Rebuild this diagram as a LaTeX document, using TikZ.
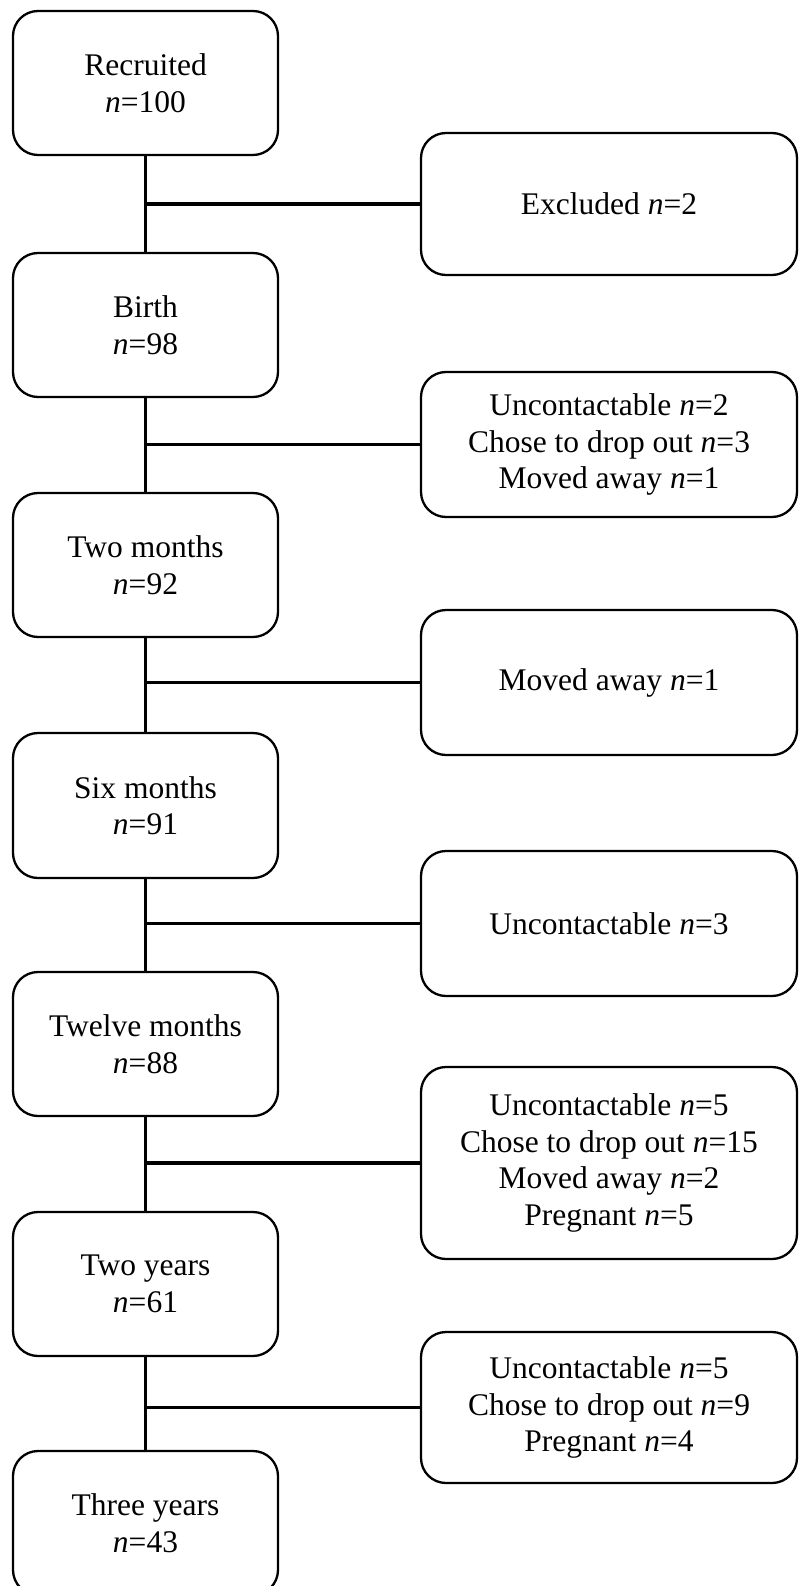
\documentclass[tikz,border=0pt]{standalone}
\usepackage{fontspec}
\setmainfont{Liberation Serif}
\begin{document}
\begin{tikzpicture}[x=1pt,y=-1pt,
  lbox/.style={draw, line width=2.3pt, rounded corners=25pt, minimum width=265pt, minimum height=144pt, align=center, inner sep=0pt, font=\fontsize{31.5}{36.5}\selectfont},
  rbox/.style={lbox, minimum width=376pt},
  conn/.style={line width=3.2pt}]
\useasboundingbox (0,0) rectangle (798,1586);
% left column
\node[lbox] (rec) at (145.5,83) {Recruited\\\textit{n}=100};
\node[lbox] (birth) at (145.5,325) {Birth\\\textit{n}=98};
\node[lbox] (twom) at (145.5,565) {Two months\\\textit{n}=92};
\node[lbox, minimum height=145pt] (sixm) at (145.5,805.5) {Six months\\\textit{n}=91};
\node[lbox] (twelve) at (145.5,1044) {Twelve months\\\textit{n}=88};
\node[lbox] (twoy) at (145.5,1284) {Two years\\\textit{n}=61};
\node[lbox] (threey) at (145.5,1523) {Three years\\\textit{n}=43};
% right column
\node[rbox, minimum height=142pt] (exc) at (609,204) {Excluded \textit{n}=2};
\node[rbox, minimum height=145pt] (d1) at (609,444.5) {Uncontactable \textit{n}=2\\Chose to drop out \textit{n}=3\\Moved away \textit{n}=1};
\node[rbox, minimum height=145pt] (d2) at (609,682.5) {Moved away \textit{n}=1};
\node[rbox, minimum height=145pt] (d3) at (609,923.5) {Uncontactable \textit{n}=3};
\node[rbox, minimum height=192pt] (d4) at (609,1163) {Uncontactable \textit{n}=5\\Chose to drop out \textit{n}=15\\Moved away \textit{n}=2\\Pregnant \textit{n}=5};
\node[rbox, minimum height=151pt] (d5) at (609,1407.5) {Uncontactable \textit{n}=5\\Chose to drop out \textit{n}=9\\Pregnant \textit{n}=4};
% vertical connectors
\draw[conn] (rec.south) -- (birth.north);
\draw[conn] (birth.south) -- (twom.north);
\draw[conn] (twom.south) -- (sixm.north);
\draw[conn] (sixm.south) -- (twelve.north);
\draw[conn] (twelve.south) -- (twoy.north);
\draw[conn] (twoy.south) -- (threey.north);
% horizontal connectors
\draw[conn] (rec.south |- exc.west) -- (exc.west);
\draw[conn] (birth.south |- d1.west) -- (d1.west);
\draw[conn] (twom.south |- d2.west) -- (d2.west);
\draw[conn] (sixm.south |- d3.west) -- (d3.west);
\draw[conn] (twelve.south |- d4.west) -- (d4.west);
\draw[conn] (twoy.south |- d5.west) -- (d5.west);
\end{tikzpicture}
\end{document}
